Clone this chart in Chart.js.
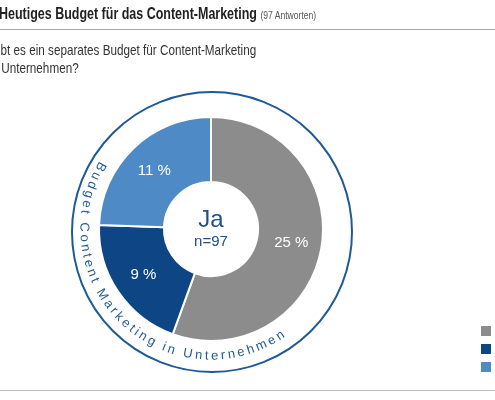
<!DOCTYPE html>
<html>
<head>
<meta charset="utf-8">
<script src="https://cdn.jsdelivr.net/npm/chart.js"></script>
<style>
  body { margin: 0; background: #fff; }
  #wrap { position: relative; width: 495px; height: 400px; overflow: hidden; font-family: "Liberation Sans Narrow", "Liberation Sans", sans-serif; }
  canvas { position: absolute; left: 0; top: 0; }
  .t { position: absolute; white-space: nowrap; color: #333; transform: scaleX(0.78); transform-origin: 0 0; }
</style>
</head>
<body>
<div id="wrap">
  <canvas id="grafico" width="495" height="400"></canvas>
  <div class="t" style="left:-1px;top:5px;font-size:16px;font-weight:bold;color:#222">Heutiges Budget für das Content-Marketing <span style="font-weight:normal;font-size:11px;color:#555">(97 Antworten)</span></div>
  <div style="position:absolute;left:0;top:29px;width:495px;height:1px;background:#aaa"></div>
  <div class="t" style="left:-2px;top:41px;font-size:15px;line-height:18px">ibt es ein separates Budget für Content-Marketing<br>&nbsp;Unternehmen?</div>
  <div style="position:absolute;left:0;top:390px;width:495px;height:1px;background:#bbb"></div>
</div>
<script>
const categorias = ["Ja, ausreichend", "Ja, zu gering", "Ja, nur projektbezogen"];
const valores = [25, 9, 11];
const colores = ["#8c8c8c", "#0d4585", "#4e8bc6"];
const etiquetaAnillo = "Budget Content Marketing in Unternehmen";

const extras = {
  id: "extras",
  afterDraw(chart) {
    const ctx = chart.ctx;
    const meta = chart.getDatasetMeta(0);
    const arc0 = meta.data[0];
    const cx = arc0.x, cy = arc0.y;
    ctx.save();
    // outer ring
    ctx.strokeStyle = "#1f5a96";
    ctx.lineWidth = 2;
    ctx.beginPath();
    ctx.arc(cx + 1, cy + 3, 140, 0, Math.PI * 2);
    ctx.stroke();
    // curved text
    ctx.font = "13px 'Liberation Sans Narrow', 'Liberation Sans', sans-serif";
    ctx.fillStyle = "#1f5a96";
    ctx.textAlign = "center";
    ctx.textBaseline = "middle";
    const r = 127;
    let a = 212 * Math.PI / 180;
    for (const ch of etiquetaAnillo) {
      const w = ctx.measureText(ch).width + 2.6;
      a -= w / 2 / r;
      ctx.save();
      ctx.translate(cx + r * Math.cos(a), cy + r * Math.sin(a));
      ctx.rotate(a - Math.PI / 2);
      ctx.fillText(ch, 0, 0);
      ctx.restore();
      a -= w / 2 / r;
    }
    // segment labels
    ctx.fillStyle = "#fff";
    ctx.font = "15px 'Liberation Sans Narrow', 'Liberation Sans', sans-serif";
    meta.data.forEach((el, i) => {
      const mid = (el.startAngle + el.endAngle) / 2;
      const rr = (el.innerRadius + el.outerRadius) / 2 + 2;
      ctx.fillText(valores[i] + " %", cx + rr * Math.cos(mid), cy + rr * Math.sin(mid));
    });
    // center
    ctx.fillStyle = "#1f5080";
    ctx.font = "24px 'Liberation Sans Narrow', 'Liberation Sans', sans-serif";
    ctx.fillText("Ja", cx, cy - 9);
    ctx.font = "15px 'Liberation Sans Narrow', 'Liberation Sans', sans-serif";
    ctx.fillText("n=97", cx, cy + 13);
    // legend squares (labels cut off at right edge)
    const ys = [331, 349, 367];
    colores.forEach((c, i) => {
      ctx.fillStyle = c;
      ctx.fillRect(481, ys[i] - 5, 10, 10);
    });
    ctx.restore();
  }
};

new Chart(document.getElementById("grafico"), {
  type: "doughnut",
  data: {
    labels: categorias,
    datasets: [{
      data: valores,
      backgroundColor: colores,
      borderColor: "#fff",
      borderWidth: 2
    }]
  },
  options: {
    responsive: false,
    animation: false,
    cutout: "42%",
    layout: { padding: { top: 116, bottom: 58, left: 98, right: 171 } },
    plugins: { legend: { display: false }, tooltip: { enabled: false } }
  },
  plugins: [extras]
});
</script>
</body>
</html>
